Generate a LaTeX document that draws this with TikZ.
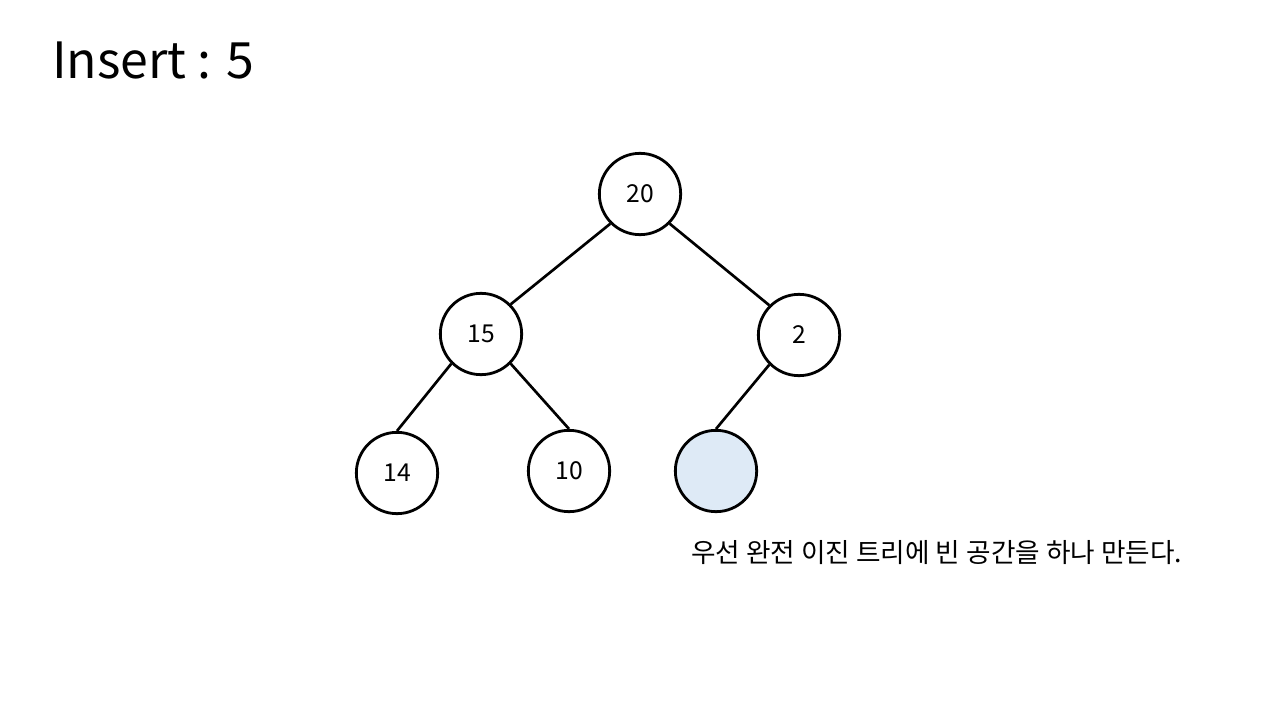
\documentclass[tikz,border=0pt]{standalone}
\usepackage{fontspec}
\setmainfont{Noto Sans CJK KR}
\definecolor{emptyfill}{RGB}{222,234,246}
\begin{document}
\begin{tikzpicture}[x=0.75pt,y=-0.75pt,
  heapnode/.style={circle,draw=black,line width=2.1pt,minimum size=61pt,inner sep=0pt,font=\fontsize{18.5}{20}\selectfont,fill=white},
  emptynode/.style={heapnode,fill=emptyfill},
  edge/.style={draw=black,line width=2pt}]
\useasboundingbox (0,0) rectangle (1280,720);
\node[anchor=west,inner sep=0pt,font=\fontsize{37.5}{40}\selectfont] (title) at (52,61) {Insert : 5};
\node[heapnode] (n20) at (640,194) {20};
\node[heapnode] (n15) at (481,334) {15};
\node[heapnode] (n2) at (799,335) {2};
\node[heapnode] (n14) at (397,473) {14};
\node[heapnode] (n10) at (569,471) {10};
\node[emptynode] (ne) at (716,471) {};
\draw[edge] (n20.south west) -- (n15.north east);
\draw[edge] (n20.south east) -- (n2.north west);
\draw[edge] (n15.south west) -- (n14.north);
\draw[edge] (n15.south east) -- (n10.north);
\draw[edge] (n2.south west) -- (ne.north);
\node[anchor=west,inner sep=0pt,font=\fontsize{20}{22}\selectfont] (caption) at (691,553) {우선 완전 이진 트리에 빈 공간을 하나 만든다.};
\end{tikzpicture}
\end{document}
